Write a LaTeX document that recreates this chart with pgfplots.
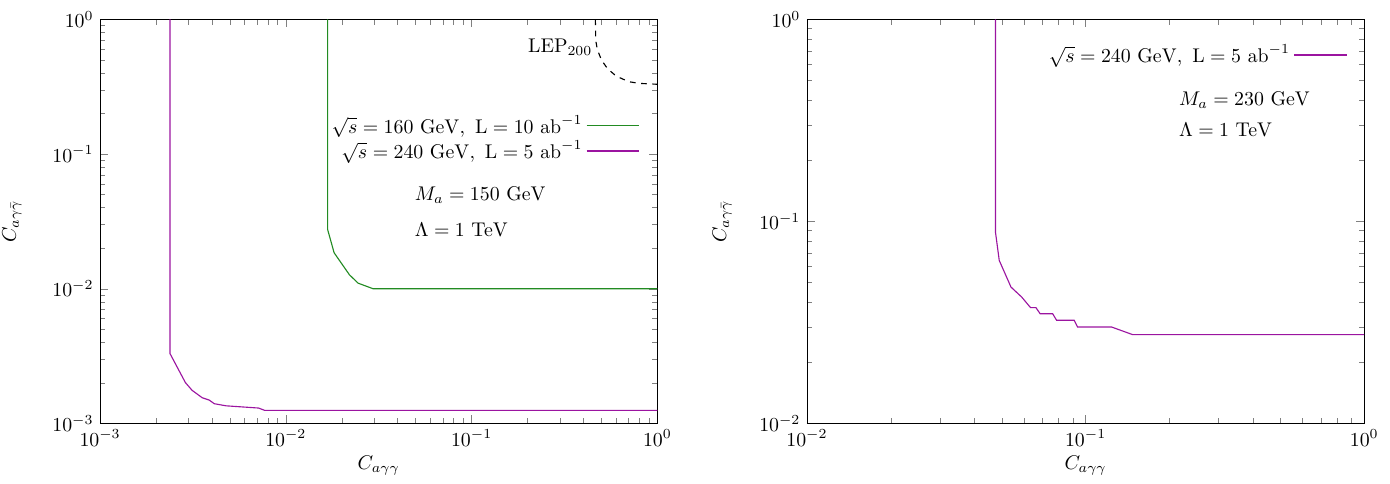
\documentclass[border=0pt]{standalone}
\usepackage{fix-cm}
\usepackage{pgfplots}
\pgfplotsset{compat=1.18}
\definecolor{cpurple}{RGB}{155,20,160}
\definecolor{cgreen}{RGB}{34,139,34}
\newcommand{\figfont}{\fontsize{10.6}{12.7}\selectfont}
\begin{document}
\begin{tikzpicture}[font=\figfont]
\useasboundingbox (-53.5pt,-32.1pt) rectangle (689.8pt,226.4pt);

% left panel, M_a = 150 GeV
\begin{axis}[
  xmode=log, ymode=log,
  scale only axis, width=298pt, height=216pt,
  xmin=1e-3, xmax=1, ymin=1e-3, ymax=1,
  tick label style={font=\figfont},
  label style={font=\figfont},
  xlabel={$C_{a\gamma\gamma}$},
  ylabel={$C_{a\gamma\bar{\gamma}}$},
  xlabel style={at={(axis description cs:0.5,-0.104)},anchor=center},
  ylabel style={at={(axis description cs:-0.158,0.5)},anchor=center},
  legend cell align=right,
  legend plot pos=right,
  legend style={draw=none, fill=none, font=\figfont, row sep=-1.5pt,
    at={(axis description cs:0.979,0.782)}, anchor=north east},
  legend image code/.code={\draw[#1] (8pt,0pt) -- (36pt,0pt);},
]
\addplot[cgreen, line width=0.6pt] coordinates {
  (0.0168,1) (0.0168,0.0275) (0.0182,0.0185) (0.0220,0.0127)
  (0.0245,0.0110) (0.0295,0.0100) (1,0.0100)};
\addlegendentry{$\sqrt{s}=160~\mathrm{GeV},~\mathrm{L}=10~\mathrm{ab}^{-1}$}
\addplot[cpurple, line width=0.6pt] coordinates {
  (0.00238,1) (0.00238,0.00330) (0.00288,0.00201) (0.00313,0.00176)
  (0.00355,0.00155) (0.00387,0.00149) (0.00412,0.00140) (0.00477,0.00135)
  (0.00713,0.00130) (0.00769,0.00125) (1,0.00125)};
\addlegendentry{$\sqrt{s}=240~\mathrm{GeV},~\mathrm{L}=5~\mathrm{ab}^{-1}$}
\addplot[black, dashed, line width=0.6pt, forget plot] coordinates {
  (0.464,1) (0.466,0.70) (0.475,0.60) (0.50,0.50) (0.54,0.43)
  (0.60,0.38) (0.70,0.345) (0.80,0.335) (1,0.33)};
\node at (axis cs:0.30,0.62) {LEP$_{200}$};
\node[anchor=west] at (axis cs:0.0456,0.0493) {$M_a=150~\mathrm{GeV}$};
\node[anchor=west] at (axis cs:0.0456,0.0276) {$\Lambda=1~\mathrm{TeV}$};
\end{axis}

% right panel, M_a = 230 GeV
\begin{axis}[at={(378pt,0pt)},
  xmode=log, ymode=log,
  scale only axis, width=298pt, height=216pt,
  xmin=1e-2, xmax=1, ymin=1e-2, ymax=1,
  tick label style={font=\figfont},
  label style={font=\figfont},
  xlabel={$C_{a\gamma\gamma}$},
  ylabel={$C_{a\gamma\bar{\gamma}}$},
  xlabel style={at={(axis description cs:0.5,-0.104)},anchor=center},
  ylabel style={at={(axis description cs:-0.152,0.5)},anchor=center},
  legend cell align=right,
  legend plot pos=right,
  legend style={draw=none, fill=none, font=\figfont, row sep=-1.5pt,
    at={(axis description cs:0.980,0.957)}, anchor=north east},
  legend image code/.code={\draw[#1] (8pt,0pt) -- (36pt,0pt);},
]
\addplot[cpurple, line width=0.6pt] coordinates {
  (0.0475,1) (0.0475,0.0885) (0.0490,0.0641) (0.0540,0.0473)
  (0.0590,0.0422) (0.0635,0.0374) (0.0664,0.0374) (0.0687,0.0349)
  (0.0762,0.0349) (0.0787,0.0324) (0.0910,0.0324) (0.0936,0.0300)
  (0.124,0.0300) (0.1476,0.0275) (1,0.0275)};
\addlegendentry{$\sqrt{s}=240~\mathrm{GeV},~\mathrm{L}=5~\mathrm{ab}^{-1}$}
\node[anchor=west] at (axis cs:0.205,0.400) {$M_a=230~\mathrm{GeV}$};
\node[anchor=west] at (axis cs:0.205,0.285) {$\Lambda=1~\mathrm{TeV}$};
\end{axis}
\end{tikzpicture}
\end{document}
